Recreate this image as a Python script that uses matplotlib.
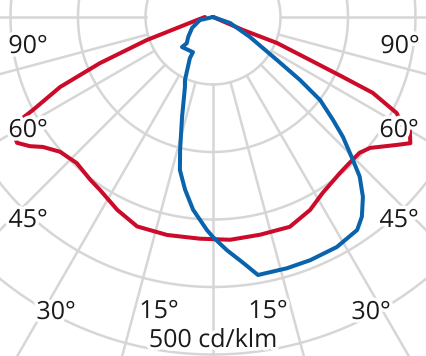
import numpy as np
import matplotlib
matplotlib.use('Agg')
import matplotlib.pyplot as plt
import matplotlib.patheffects as pe

# luminous intensity distribution
# gamma = angle from nadir in degrees (negative = left half), I in cd/klm
red_gamma = [-90, -79.4, -70.8, -67.8, -65.4, -62.7, -61.9, -60.4, -58.8, -57.3,
             -54.8, -52.6, -48.6, -43, -37, -33.2, -26.4, -19.9, -11.9, -3.4,
             4.4, 12.2, 20.1, 26.7, 32, 39.1, 43.2, 47.2, 50.2, 55.2,
             57.4, 60.2, 60.3, 62.4, 64.6, 65.2, 66.1, 67.9, 66.6, 90]
red_I = [12, 24, 104, 181, 249, 300, 324, 339, 343, 345,
         332, 317, 302, 296, 302, 306, 319, 330, 330, 329,
         331, 330, 331, 320, 307, 298, 296, 296, 303, 332,
         347, 336, 323, 307, 262, 212, 157, 102, 48, 0]

blue_gamma = [-90, -76.8, -62.4, -51.3, -45, -45.9, -29.7, -29.3, -24, -21.8,
              -17.2, -13.9, -12.2, -9.2, -5.9, -1.6, 0, 3.4, 7, 9.9,
              16.4, 21.8, 28.3, 34.1, 36.7, 39.8, 42.6, 44.4, 47.3, 49.4,
              52.2, 54.1, 56.1, 61.6, 70.6, 90]
blue_I = [0, 20, 35, 47, 55, 64, 60, 70, 102, 112,
          155, 203, 232, 259, 287, 316, 326, 346, 367, 388,
          388, 388, 387, 381, 369, 347, 321, 296, 262, 234,
          201, 159, 114, 62, 27, 0]

ring_values = [100, 200, 300, 400, 500, 600]   # cd/klm
spoke_angles = list(range(-90, 91, 15))         # degrees
unit_label = '500 cd/klm'

# plotting params
W, H, dpi = 427, 356, 100
cx, cy = 213, 17          # pole of the diagram, px from top left
px_per_cd = 0.675
R = 420                   # px radius of the (clipped) polar axes
red = '#cc0a2a'
blue = '#0a64ad'
gridcol = '#d6d6d6'
lw = 2.9

plt.rcParams['font.family'] = ['Open Sans', 'DejaVu Sans']

fig = plt.figure(figsize=(W / dpi, H / dpi), dpi=dpi)
ax = fig.add_axes([(cx - R) / W, (H - cy - R) / H, 2 * R / W, 2 * R / H],
                  projection='polar')
ax.set_theta_zero_location('S')
ax.set_theta_direction(1)
ax.set_rlim(0, R / px_per_cd)
ax.grid(False)
ax.set_xticks([])
ax.set_yticks([])
ax.spines['polar'].set_visible(False)

# grid: circles and spokes (spokes start at first circle)
th = np.linspace(0, 2 * np.pi, 721)
for rv in ring_values:
    ax.plot(th, np.full_like(th, rv), color=gridcol, lw=1.8, zorder=1)
for a in spoke_angles:
    ax.plot([np.radians(a)] * 2, [ring_values[0], 800], color=gridcol, lw=1.8, zorder=1)

ax.plot(np.radians(red_gamma), red_I, color=red, lw=lw, zorder=3,
        solid_joinstyle='round', solid_capstyle='round')
ax.plot(np.radians(blue_gamma), blue_I, color=blue, lw=lw, zorder=4,
        solid_joinstyle='round', solid_capstyle='round')

halo = [pe.withStroke(linewidth=5, foreground='white')]
labels = [
    ('90°', 28, 53), ('90°', 400, 53),
    ('60°', 28, 137), ('60°', 399, 137),
    ('45°', 28, 227), ('45°', 399, 227),
    ('30°', 56, 319), ('30°', 371, 319),
    ('15°', 159, 318), ('15°', 268, 318),
    (unit_label, 213, 347),
]
for txt, x, y in labels:
    fig.text(x / W, 1 - y / H, txt, ha='center', va='baseline', fontsize=18,
             color='#1a1a1a', path_effects=halo, zorder=10)

fig.savefig('out.png', dpi=dpi, facecolor='white')
